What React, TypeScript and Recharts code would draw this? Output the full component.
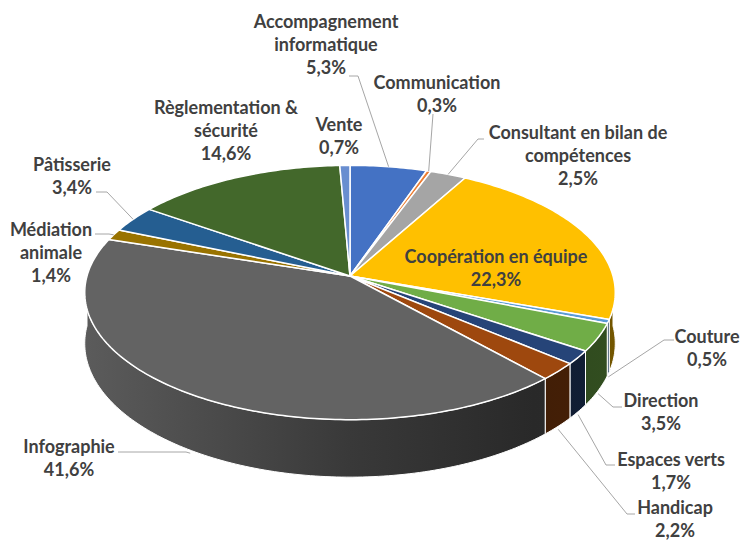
import { Pie, PieChart } from 'recharts'

// catégories dans l'ordre du graphique (sens horaire depuis midi)
const CATEGORIES = [
  'Accompagnement\ninformatique',
  'Communication',
  'Consultant en bilan de\ncompétences',
  'Coopération en équipe',
  'Couture',
  'Direction',
  'Espaces verts',
  'Handicap',
  'Infographie',
  'Médiation\nanimale',
  'Pâtisserie',
  'Règlementation &\nsécurité',
  'Vente',
]

const SHARES = [5.3, 0.3, 2.5, 22.3, 0.5, 3.5, 1.7, 2.2, 41.6, 1.4, 3.4, 14.6, 0.7]

const COLORS = [
  '#4472C4', '#ED7D31', '#A5A5A5', '#FFC000', '#5B9BD5', '#70AD47', '#264478',
  '#9E480E', '#636363', '#997300', '#255E91', '#43682B', '#698ED0',
]

// placement des étiquettes : centre du texte, départ et coude du trait de rappel
const LABEL_LAYOUT: { x: number; y: number; lead: number[] | null }[] = [
  { x: 326, y: 22, lead: [349, 76, 358, 76] },
  { x: 437, y: 83, lead: [433, 114, 433, 114] },
  { x: 578, y: 133, lead: [484, 139, 478, 139] },
  { x: 496, y: 257, lead: null },
  { x: 707, y: 337, lead: [674, 340, 664, 340] },
  { x: 661, y: 401, lead: [622, 407, 613, 407] },
  { x: 671, y: 460, lead: [615, 465, 606, 465] },
  { x: 675, y: 508, lead: [635, 514, 627, 514] },
  { x: 69, y: 447, lead: [118, 452, 186, 452] },
  { x: 51, y: 230, lead: [95, 234, 109, 234] },
  { x: 72, y: 165, lead: [96, 192, 107, 192] },
  { x: 226, y: 108, lead: null },
  { x: 339, y: 125, lead: null },
]

const data = CATEGORIES.map((name, i) => ({ name, value: SHARES[i] }))

const W = 744
const H = 542
const CX = 350
const CY = 276
const RX = 263
const RY = 125
const PERSP = 0.13
const DEPTH = 50
const FONT = 'Lato, "Open Sans", sans-serif'

function project(phi: number, drop = 0) {
  const r = (phi * Math.PI) / 180
  const u = Math.sin(r)
  const v = -Math.cos(r)
  const f = 1 / (1 - PERSP * v)
  return { x: CX + RX * u * f, y: CY + RY * v * f + drop * f, v, f }
}

function arc(from: number, to: number, drop: number) {
  const steps = Math.max(2, Math.ceil(Math.abs(to - from)))
  const pts: string[] = []
  for (let i = 0; i <= steps; i += 1) {
    const p = project(from + ((to - from) * i) / steps, drop)
    pts.push(`${p.x.toFixed(2)},${p.y.toFixed(2)}`)
  }
  return pts
}

function shade(hex: string, k: number) {
  const n = parseInt(hex.slice(1), 16)
  const r = Math.round(((n >> 16) & 255) * k)
  const g = Math.round(((n >> 8) & 255) * k)
  const b = Math.round((n & 255) * k)
  return `rgb(${r},${g},${b})`
}

function toPhi(props: any) {
  return [90 - props.startAngle, 90 - props.endAngle]
}

function renderSide(props: any) {
  const [p1, p2] = toPhi(props)
  const a = Math.max(p1, 90)
  const b = Math.min(p2, 270)
  const idx = props.index
  if (b <= a) return <g key={`side-${idx}`} />
  const top = arc(a, b, 0)
  const bottom = arc(b, a, DEPTH)
  const c = COLORS[idx]
  const id = `side-grad-${idx}`
  return (
    <g key={`side-${idx}`}>
      <defs>
        <linearGradient id={id} gradientUnits="userSpaceOnUse" x1={CX - RX} y1={0} x2={CX + RX} y2={0}>
          <stop offset="0" stopColor={shade(c, 0.92)} />
          <stop offset="0.5" stopColor={shade(c, 0.58)} />
          <stop offset="0.85" stopColor={shade(c, 0.41)} />
          <stop offset="1" stopColor={shade(c, 0.45)} />
        </linearGradient>
      </defs>
      <path
        d={`M${top.join('L')}L${bottom.join('L')}Z`}
        fill={`url(#${id})`}
        stroke="#fff"
        strokeWidth={1}
        strokeLinejoin="round"
      />
    </g>
  )
}

function renderTop(props: any) {
  const [p1, p2] = toPhi(props)
  const idx = props.index
  return (
    <path
      key={`top-${idx}`}
      d={`M${CX},${CY}L${arc(p1, p2, 0).join('L')}Z`}
      fill={COLORS[idx]}
      stroke="#fff"
      strokeWidth={1.5}
      strokeLinejoin="round"
    />
  )
}

function renderText(props: any) {
  const idx = props.index
  const layout = LABEL_LAYOUT[idx]
  const lines = [...CATEGORIES[idx].split('\n'), `${SHARES[idx].toFixed(1).replace('.', ',')}%`]
  let leader = null
  if (layout.lead) {
    const mid = 90 - props.midAngle
    const rim = project(mid, 0)
    const end = rim.v > 0 ? project(mid, DEPTH) : rim
    const ey = rim.v > 0 ? end.y + 3 : end.y
    const [sx, sy, kx, ky] = layout.lead
    leader = (
      <polyline
        points={`${sx},${sy} ${kx},${ky} ${end.x.toFixed(1)},${ey.toFixed(1)}`}
        fill="none"
        stroke="#a6a6a6"
        strokeWidth={1}
      />
    )
  }
  return (
    <g key={`label-${idx}`}>
      {leader}
      <text
        x={layout.x}
        y={layout.y + 6}
        textAnchor="middle"
        fill="#404040"
        fontFamily={FONT}
        fontWeight={700}
        fontSize={18}
      >
        {lines.map((line, i) => (
          <tspan key={i} x={layout.x} dy={i === 0 ? 0 : 23}>
            {line}
          </tspan>
        ))}
      </text>
    </g>
  )
}

const pieCommon = {
  data,
  dataKey: 'value',
  nameKey: 'name',
  cx: CX,
  cy: CY,
  outerRadius: 120,
  startAngle: 90,
  endAngle: -270,
  fill: 'none',
  stroke: 'none',
  labelLine: false,
  isAnimationActive: false,
}

export default function App() {
  return (
    <div style={{ position: 'absolute', left: 0, top: 0, width: W, height: H, background: '#fff' }}>
      <PieChart width={W} height={H} margin={{ top: 0, right: 0, bottom: 0, left: 0 }}>
        <Pie {...pieCommon} label={renderSide} />
        <Pie {...pieCommon} label={renderTop} />
        <Pie {...pieCommon} label={renderText} />
      </PieChart>
    </div>
  )
}
